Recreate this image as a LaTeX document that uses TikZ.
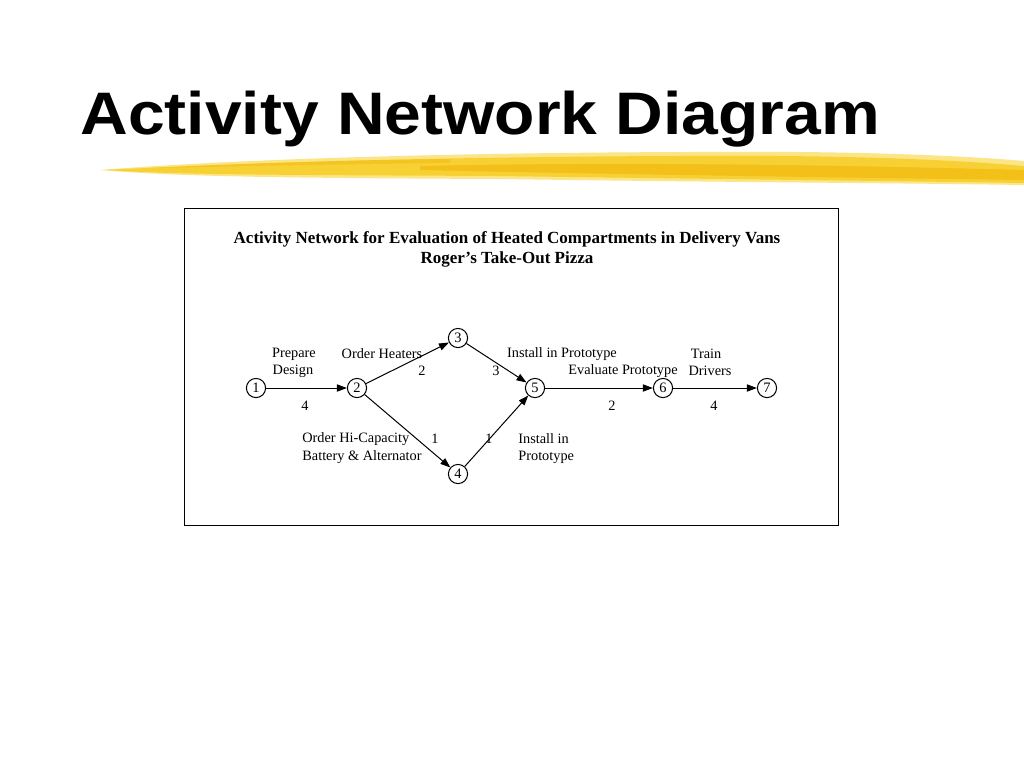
\documentclass[tikz,border=0pt]{standalone}
\usepackage{fontspec}
\setmainfont{Liberation Serif}
\newfontfamily\titlefont{Liberation Sans}
\usetikzlibrary{arrows.meta}
\definecolor{brushA}{HTML}{F7CF2A}
\definecolor{brushB}{HTML}{F2B90F}
\definecolor{brushC}{HTML}{FADF6A}
\begin{document}
\begin{tikzpicture}[x=0.5pt,y=-0.5pt,
  ev/.style={circle,draw,line width=0.5pt,minimum size=9.6pt,inner sep=0pt,font=\fontsize{7.2}{8}\selectfont},
  lbl/.style={font=\fontsize{7.15}{8.4}\selectfont,inner sep=0pt,align=center},
  lbll/.style={lbl,align=left,anchor=west},
  act/.style={line width=0.5pt,-{Triangle[length=5pt,width=3.6pt]}}]
\useasboundingbox (0,0) rectangle (1024,768);
\fill[white] (0,0) rectangle (1024,768);
% brush stroke
\fill[brushC,opacity=0.8] (100,170) .. controls (250,158) and (500,151) .. (800,152) .. controls (900,153) and (980,157) .. (1024,161) -- (1024,185) .. controls (900,183) and (700,182) .. (500,179) .. controls (300,178) and (180,177) .. (100,170) -- cycle;
\fill[brushA,opacity=0.9] (105,170) .. controls (260,162) and (500,155) .. (780,156) .. controls (900,157) and (980,162) .. (1024,166) -- (1024,183) .. controls (900,181) and (700,179) .. (500,176) .. controls (300,175) and (180,175) .. (105,170) -- cycle;
\fill[brushB,opacity=0.7] (420,166) .. controls (600,162) and (800,164) .. (1024,170) -- (1024,180) .. controls (800,177) and (600,174) .. (420,170) -- cycle;
\fill[brushB,opacity=0.5] (150,168) .. controls (250,163) and (350,160) .. (450,159) -- (450,163) .. controls (350,164) and (250,166) .. (150,168) -- cycle;
% title
\node[anchor=base west,inner sep=0pt,font=\titlefont\bfseries\fontsize{30}{36}\selectfont] (title) at (80,134) {\scalebox{1.1}[1]{Activity Network Diagram}};
% frame
\draw[line width=0.5pt] (184,208) rectangle (838,525);
\node[lbl,font=\bfseries\fontsize{8.5}{10}\selectfont] (cap1) at (507,239) {Activity Network for Evaluation of Heated Compartments in Delivery Vans};
\node[lbl,font=\bfseries\fontsize{8.5}{10}\selectfont] (cap2) at (507,259) {Roger’s Take-Out Pizza};
% events
\node[ev] (n1) at (256,388) {1};
\node[ev] (n2) at (357,388) {2};
\node[ev] (n3) at (458,338) {3};
\node[ev] (n4) at (458,474) {4};
\node[ev] (n5) at (535,388) {5};
\node[ev] (n6) at (663,388) {6};
\node[ev] (n7) at (767,388) {7};
% activities
\draw[act] (n1) -- (n2);
\draw[act] (n2) -- (n3);
\draw[act] (n2) -- (n4);
\draw[act] (n3) -- (n5);
\draw[act] (n4) -- (n5);
\draw[act] (n5) -- (n6);
\draw[act] (n6) -- (n7);
% labels
\node[lbl] (l1a) at (294,354) {Prepare};
\node[lbl] (l1b) at (293,371) {Design};
\node[lbl] (d12) at (305,406) {4};
\node[lbl] (l23) at (382,354) {Order Heaters};
\node[lbl] (d23) at (422,371) {2};
\node[lbl] (d35) at (496,371) {3};
\node[lbl] (l35) at (562,354) {Install in Prototype};
\node[lbl] (l56) at (623,371) {Evaluate Prototype};
\node[lbl] (d56) at (612,406) {2};
\node[lbl] (l67a) at (706,354) {Train};
\node[lbl] (l67b) at (710,371) {Drivers};
\node[lbl] (d67) at (714,406) {4};
\node[lbll] (l24a) at (302,439) {Order Hi-Capacity};
\node[lbll] (l24b) at (302,457) {Battery \& Alternator};
\node[lbl] (d24) at (435,439) {1};
\node[lbl] (d45) at (489,439) {1};
\node[lbll] (l45a) at (518,439) {Install in};
\node[lbll] (l45b) at (518,457) {Prototype};
\end{tikzpicture}
\end{document}
